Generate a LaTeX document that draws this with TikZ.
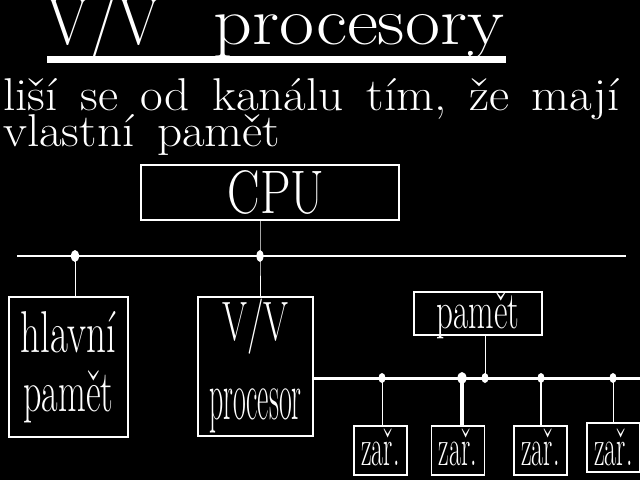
\documentclass[tikz,border=0pt]{standalone}
\usepackage{fontspec}
\usepackage{graphicx}
\newcommand{\squeeze}[3]{\scalebox{#1}[#2]{#3}}

\begin{document}
\begin{tikzpicture}[x=1pt, y=-1pt,
    box/.style = {draw=white, line width=1.5pt, inner sep=0pt, text=white},
    big/.style = {font=\fontsize{59}{59}\selectfont},
    plain/.style = {anchor=base west, inner sep=0pt, text=white},
    wire/.style = {draw=white, line width=1pt},
    bus/.style = {draw=white, line width=2pt}]
  \fill[black] (0,0) rectangle (640,480);
  \useasboundingbox (0,0) rectangle (640,480);

  \node[plain, font=\fontsize{68}{68}\selectfont] (title) at (46,44) {\squeeze{.91}{1}{V/V}\hspace{53pt}\squeeze{1.12}{1}{procesory}};
  \coordinate (ul1) at (47,59.5);
  \coordinate (ul2) at (506,59.5);
  \draw[white, line width=7pt] (ul1) -- (ul2);

  \node[plain, font=\fontsize{46}{46}\selectfont] (lisi) at (3,110) {\squeeze{1.07}{1}{\spaceskip=.46em liší se od kanálu tím, že mají}};
  \node[plain, font=\fontsize{46}{46}\selectfont] (vlastni) at (3,146) {\squeeze{1.07}{1}{\spaceskip=.46em vlastní pamět}};

  \node[box, minimum width=258pt, minimum height=55pt, font=\fontsize{61.5}{61.5}\selectfont] (cpu) at (270,192.5) {\hspace*{12pt}\squeeze{.79}{1}{CPU}};
  \node[box, big, align=center, minimum width=119pt, minimum height=140pt] (hlavni) at (68.5,367) {\squeeze{.66}{1}{hlavní}\\\squeeze{.61}{1}{pamět}};
  \node[box, align=center, minimum width=115pt, minimum height=139pt, font=\fontsize{59}{79}\selectfont] (vv) at (255.5,366.5) {\squeeze{.61}{.94}{V/V}\\\squeeze{.47}{1.18}{procesor}};
  \node[box, big, minimum width=128pt, text height=36pt, text depth=7pt] (mem) at (478,313.5) {\squeeze{.56}{.9}{pamět}};
  \node[box, big, minimum width=53pt, text height=39pt, text depth=10pt] (z1) at (380.5,450.5) {\squeeze{.44}{.9}{zař.}};
  \node[box, big, minimum width=53pt, text height=39pt, text depth=10pt] (z2) at (458,450.5) {\squeeze{.44}{.9}{zař.}};
  \node[box, big, minimum width=53pt, text height=39pt, text depth=10pt] (z3) at (540.5,450.5) {\squeeze{.44}{.9}{zař.}};
  \node[box, big, minimum width=53pt, text height=42pt, text depth=7pt] (z4) at (613.5,447.5) {\squeeze{.44}{.9}{zař.}};

  \coordinate (busL) at (17,256);
  \coordinate (busR) at (626,256);
  \coordinate (ja) at (75,256);
  \coordinate (jb) at (260,256);
  \draw[bus] (busL) -- (busR);
  \draw[wire] (cpu.south -| jb) -- (jb) -- (vv.north -| jb);
  \draw[wire] (ja) -- (hlavni.north -| ja);
  \fill[white] (ja) ellipse [x radius=4, y radius=6];
  \fill[white] (jb) ellipse [x radius=3.5, y radius=6];

  \coordinate (busE) at (641,378);
  \coordinate (k1) at (382,378);
  \coordinate (k2) at (462,378);
  \coordinate (k3) at (485,378);
  \coordinate (k4) at (541,378);
  \coordinate (k5) at (613,378);
  \draw[bus, line width=3pt] (vv.east |- busE) -- (busE);
  \draw[wire] (k1) -- (z1.north -| k1);
  \draw[wire, line width=4pt] (k2) -- (z2.north -| k2);
  \draw[wire] (k3) -- (mem.south -| k3);
  \draw[wire, line width=2pt] (k4) -- (z3.north -| k4);
  \draw[wire] (k5) -- (z4.north -| k5);
  \fill[white] (k1) ellipse [x radius=3.5, y radius=5];
  \fill[white] (k2) ellipse [x radius=4.5, y radius=6];
  \fill[white] (k3) ellipse [x radius=3.5, y radius=5];
  \fill[white] (k4) ellipse [x radius=3.5, y radius=5];
  \fill[white] (k5) ellipse [x radius=3.5, y radius=5];
\end{tikzpicture}
\end{document}
